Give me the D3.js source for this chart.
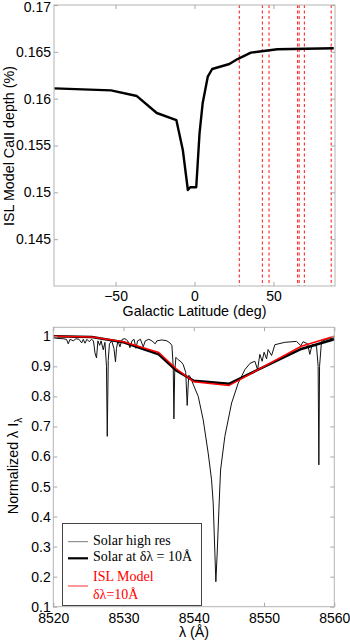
<!DOCTYPE html>
<html>
<head>
<meta charset="utf-8">
<script src="https://cdnjs.cloudflare.com/ajax/libs/d3/7.8.5/d3.min.js"></script>
<style>
  html, body { margin: 0; padding: 0; background: #fff; }
  svg { display: block; }
  .axis text { font-family: "Liberation Sans", Arial, sans-serif; font-size: 14px; fill: #000; }
  .axis path { display: none; }
  .axis line { stroke: #a8a8a8; }
  .lbl { font-family: "Liberation Sans", Arial, sans-serif; font-size: 14.3px; fill: #000; }
  .leg { font-family: "Liberation Serif", "Times New Roman", serif; font-size: 14px; }
</style>
</head>
<body>
<svg id="chart" width="350" height="644"></svg>
<script>
// top panel: CaII depth vs galactic latitude
const latitudes = [-88.8, -52.9, -36.5, -23.9, -11.5, -7.4, -4.2, -2.7, 1.1, 3.2, 5.2, 8.4, 11.2, 22.1, 27.3, 35.7, 52.5, 88.2];
const depths    = [0.1611, 0.16089, 0.16028, 0.15847, 0.15772, 0.15452, 0.15025, 0.15054, 0.15054, 0.15633, 0.15954, 0.16235, 0.16317, 0.1637, 0.16423, 0.16491, 0.16527, 0.16538];
const markerLats = [28.4, 43, 47.2, 65.3, 66.3, 69.6, 86.6];
const latTicks = [-50, 0, 50];
const depthTicks = [0.145, 0.15, 0.155, 0.16, 0.165, 0.17];

// bottom panel: spectra
const hiresWave = [8520.00, 8520.67, 8521.38, 8521.88, 8522.13, 8522.38, 8522.84, 8523.23, 8523.66, 8524.04, 8524.27, 8524.51, 8524.79, 8525.12, 8525.43, 8525.72, 8525.93, 8526.15, 8526.35, 8526.6, 8526.8, 8527.11, 8527.35, 8527.57, 8527.68, 8527.82, 8527.99, 8528.31, 8528.63, 8528.85, 8529.0, 8529.2, 8529.49, 8529.8, 8530.2, 8530.6, 8530.91, 8531.2, 8531.5, 8531.76, 8532.0, 8532.4, 8532.8, 8533.1, 8533.6, 8534.04, 8534.5, 8534.75, 8535.46, 8536.17, 8536.6, 8536.88, 8537.07, 8537.17, 8537.28, 8537.45, 8537.78, 8538.2, 8538.49, 8538.85, 8539.06, 8539.27, 8539.45, 8540.01, 8540.63, 8541.34, 8542.05, 8542.53, 8542.76, 8543.0, 8543.14, 8543.33, 8543.61, 8543.81, 8544.42, 8545.38, 8546.32, 8547.27, 8548.0, 8548.69, 8549.08, 8549.4, 8549.73, 8550.01, 8550.36, 8550.58, 8551.07, 8551.54, 8552.96, 8554.62, 8555.23, 8555.56, 8556.2, 8556.51, 8556.84, 8557.47, 8557.7, 8557.8, 8557.9, 8558.18, 8558.93, 8560.0];
const hiresFlux = [0.995, 0.993, 0.992, 0.99, 0.975, 0.99, 0.985, 0.992, 0.99, 0.978, 0.99, 0.977, 0.99, 0.982, 0.99, 0.985, 0.945, 0.928, 0.985, 0.97, 0.985, 0.955, 0.98, 0.9, 0.667, 0.92, 0.975, 0.985, 0.96, 0.915, 0.96, 0.985, 0.965, 0.99, 0.992, 0.985, 0.962, 0.985, 0.99, 0.96, 0.985, 0.99, 0.965, 0.985, 0.99, 0.985, 0.975, 0.985, 0.988, 0.985, 0.978, 0.97, 0.9, 0.725, 0.88, 0.93, 0.922, 0.915, 0.906, 0.88, 0.77, 0.87, 0.867, 0.835, 0.8, 0.722, 0.611, 0.522, 0.445, 0.279, 0.183, 0.279, 0.445, 0.555, 0.667, 0.778, 0.844, 0.889, 0.91, 0.917, 0.889, 0.94, 0.917, 0.947, 0.925, 0.956, 0.936, 0.972, 0.98, 0.983, 0.969, 0.982, 0.975, 0.94, 0.972, 0.967, 0.9, 0.572, 0.9, 0.983, 0.99, 0.995];
const degWave = [8520, 8525.5, 8530, 8535, 8537.5, 8540, 8545, 8555.3, 8560];
const degFlux = [1.0, 0.998, 0.98, 0.94, 0.886, 0.852, 0.842, 0.958, 0.99];
const modelWave = [8520, 8525.5, 8530, 8535, 8537.5, 8540, 8545, 8555.3, 8560];
const modelFlux = [1.0, 0.998, 0.982, 0.946, 0.892, 0.849, 0.836, 0.967, 1.0];
const waveTicks = [8520, 8530, 8540, 8550, 8560];
const fluxTicks = [0.1, 0.2, 0.3, 0.4, 0.5, 0.6, 0.7, 0.8, 0.9, 1];

const svg = d3.select("#chart");
const fmt = d => String(+d.toFixed(3)).replace("-", "\u2212");

function drawFrame(g, x, y, xTicks, yTicks, xPad, yPad){
    let [x0, x1] = x.range();
    let [y0, y1] = y.range();
    g.append("rect")
        .attr("x", x0).attr("y", y1)
        .attr("width", x1 - x0).attr("height", y0 - y1)
        .attr("fill", "none").attr("stroke", "#b4b4b4");
    g.append("g").attr("class", "axis").attr("transform", `translate(0,${y0})`)
        .call(d3.axisBottom(x).tickValues(xTicks).tickSize(-4).tickSizeOuter(0).tickPadding(xPad).tickFormat(fmt));
    g.append("g").attr("class", "axis").attr("transform", `translate(0,${y1})`)
        .call(d3.axisTop(x).tickValues(xTicks).tickSize(-4).tickSizeOuter(0).tickFormat(""));
    g.append("g").attr("class", "axis").attr("transform", `translate(${x0},0)`)
        .call(d3.axisLeft(y).tickValues(yTicks).tickSize(-4).tickSizeOuter(0).tickPadding(yPad).tickFormat(fmt));
    g.append("g").attr("class", "axis").attr("transform", `translate(${x1},0)`)
        .call(d3.axisRight(y).tickValues(yTicks).tickSize(-4).tickSizeOuter(0).tickFormat(""));
}

//top panel
const xLat = d3.scaleLinear().domain([-89, 89]).range([54, 335]);
const yDepth = d3.scaleLinear().domain([0.14, 0.17]).range([286, 5]);
const topPanel = svg.append("g");

topPanel.selectAll("line.marker").data(markerLats).join("line")
    .attr("class", "marker")
    .attr("x1", d => xLat(d)).attr("x2", d => xLat(d))
    .attr("y1", yDepth(0.17)).attr("y2", yDepth(0.14))
    .attr("stroke", "#ff2a2a").attr("stroke-width", 1.1)
    .attr("stroke-dasharray", "3,2.5");

topPanel.append("path")
    .datum(d3.zip(latitudes, depths))
    .attr("fill", "none").attr("stroke", "#000").attr("stroke-width", 2.4)
    .attr("stroke-linejoin", "round")
    .attr("d", d3.line().x(d => xLat(d[0])).y(d => yDepth(d[1])));

drawFrame(topPanel, xLat, yDepth, latTicks, depthTicks, 5, 3);
topPanel.select(".axis:nth-of-type(3) .tick:last-of-type text").attr("dy", "0.45em");

topPanel.append("text").attr("class", "lbl")
    .attr("x", 194.5).attr("y", 316).attr("text-anchor", "middle")
    .text("Galactic Latitude (deg)");
topPanel.append("text").attr("class", "lbl")
    .attr("transform", "translate(14,146) rotate(-90)").attr("text-anchor", "middle")
    .text("ISL Model CaII depth (%)");

//bottom panel
const xWave = d3.scaleLinear().domain([8520, 8560]).range([53.3, 334.3]);
const yFlux = d3.scaleLinear().domain([0.1, 1.03]).range([606.7, 327.3]);
const botPanel = svg.append("g");
const specLine = d3.line().x(d => xWave(d[0])).y(d => yFlux(d[1]));

botPanel.append("path").datum(d3.zip(hiresWave, hiresFlux))
    .attr("fill", "none").attr("stroke", "#111").attr("stroke-width", 1)
    .attr("d", specLine);
botPanel.append("path").datum(d3.zip(degWave, degFlux))
    .attr("fill", "none").attr("stroke", "#000").attr("stroke-width", 2.5)
    .attr("d", specLine);
botPanel.append("path").datum(d3.zip(modelWave, modelFlux))
    .attr("fill", "none").attr("stroke", "#ff0000").attr("stroke-width", 1.5)
    .attr("d", specLine);

drawFrame(botPanel, xWave, yFlux, waveTicks, fluxTicks, 6.5, 2.5);

botPanel.append("text").attr("class", "lbl")
    .attr("x", 194).attr("y", 637).attr("text-anchor", "middle")
    .text("\u03bb (\u00c5)");
let ylab = botPanel.append("text").attr("class", "lbl")
    .attr("transform", "translate(18,466) rotate(-90)").attr("text-anchor", "middle");
ylab.append("tspan").text("Normalized \u03bb I");
ylab.append("tspan").attr("dy", 4).attr("font-size", "10px").text("\u03bb");

//legend
const legend = botPanel.append("g");
legend.append("rect")
    .attr("x", 62.5).attr("y", 523.5).attr("width", 139).attr("height", 82)
    .attr("fill", "#fff").attr("stroke", "#444").attr("stroke-width", 1);
const legItems = [
    {lines: ["Solar high res"], color: "#000", width: 0.8, stroke: "#555", y: 541.7},
    {lines: ["Solar at \u03b4\u03bb = 10\u00c5"], color: "#000", width: 2.2, stroke: "#000", y: 558.3},
    {lines: ["ISL Model", "\u03b4\u03bb=10\u00c5"], color: "#ff0000", width: 1, stroke: "#ff3030", y: 586}
];
legItems.forEach(function(d){
    legend.append("line")
        .attr("x1", 68).attr("x2", 88).attr("y1", d.y).attr("y2", d.y)
        .attr("stroke", d.stroke).attr("stroke-width", d.width);
    let base = d.lines.length === 1 ? d.y + 3 : d.y - 5;
    d.lines.forEach(function(t, i){
        legend.append("text").attr("class", "leg")
            .attr("x", 93).attr("y", base + i * 18)
            .attr("fill", d.color).text(t);
    });
});
</script>
</body>
</html>
